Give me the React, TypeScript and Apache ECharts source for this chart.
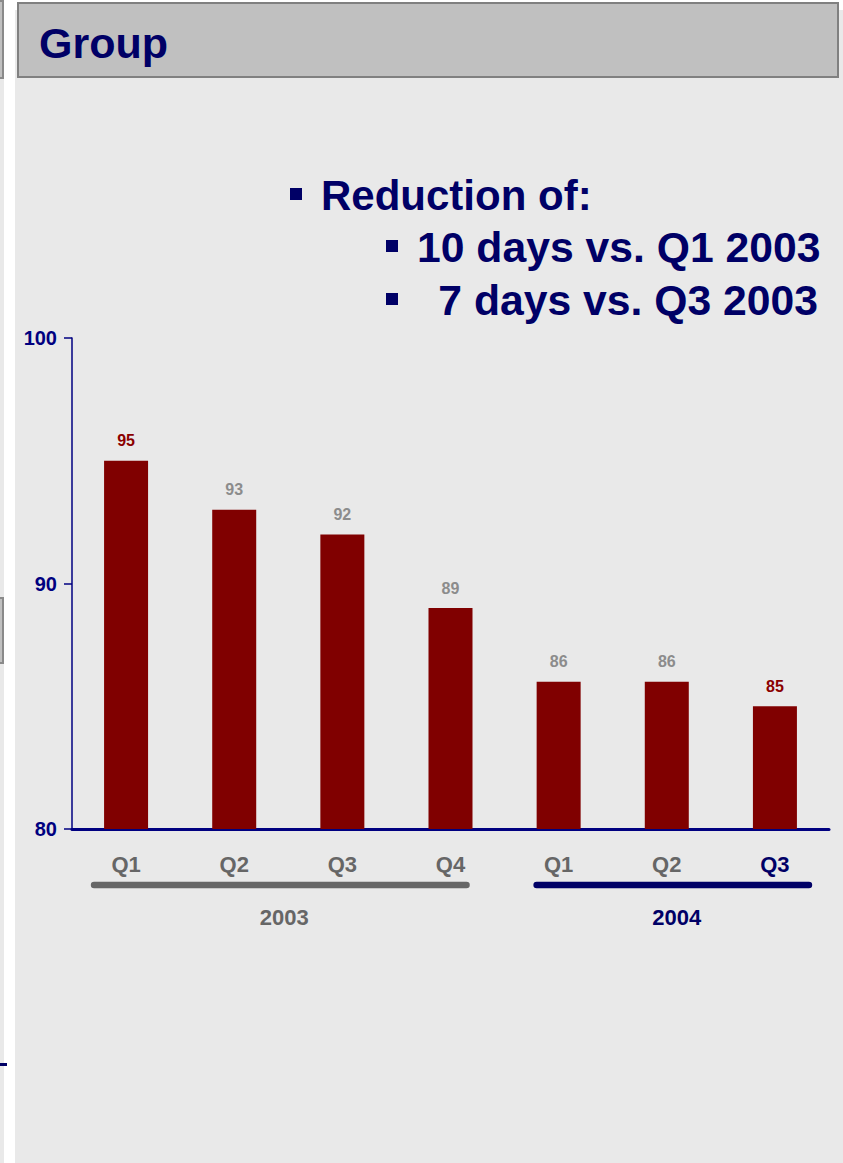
import React, { useEffect, useRef } from "react";
import * as echarts from "echarts";

// Quarterly values
const quarters = ["Q1", "Q2", "Q3", "Q4", "Q1", "Q2", "Q3"];
const dayValues = [95, 93, 92, 89, 86, 86, 85];
// Quarters whose value label is shown in red (start and current quarter)
const emphasisIndexes = [0, 6];
// Latest quarter, shown in navy on the category axis
const currentIndex = 6;

// Value axis
const yMin = 80;
const yMax = 100;
const yInterval = 10;

// Year groupings below the quarter labels
const yearGroups = [
  { label: "2003", from: 0, to: 3 },
  { label: "2004", from: 4, to: 6 },
];

// Headline text
const headerTitle = "Group";
const bulletLines = ["Reduction of:", "10 days vs. Q1 2003", " 7 days vs. Q3 2003"];

const FONT = '"Liberation Sans", Arial, Helvetica, sans-serif';
const NAVY = "#000066";
const AXIS_NAVY = "#000080";
const GREY_TEXT = "#666666";
const VALUE_GREY = "#8c8c8c";
const BAR_RED = "#800000";
const LABEL_RED = "#8b0000";
const PANEL = "#e9e9e9";

// Per-group bracket overhang (left of first centre, right of last centre)
const groupStyle = [
  { color: "#666666", padLeft: 32, padRight: 16, textColor: GREY_TEXT },
  { color: NAVY, padLeft: 22, padRight: 34, textColor: NAVY },
];

const W = 843;
const H = 1163;

function staticGraphics(): any[] {
  const els: any[] = [
    // left strip belonging to the neighbouring page
    { type: "rect", shape: { x: 0, y: 0, width: 4, height: H }, style: { fill: PANEL } },
    {
      type: "rect",
      shape: { x: -12, y: 1, width: 15, height: 77 },
      style: { fill: "#c0c0c0", stroke: "#8a8a8a", lineWidth: 2 },
    },
    {
      type: "rect",
      shape: { x: -12, y: 598, width: 15, height: 65 },
      style: { fill: "#c0c0c0", stroke: "#8a8a8a", lineWidth: 2 },
    },
    { type: "rect", shape: { x: 0, y: 1063, width: 7, height: 3 }, style: { fill: NAVY } },
    // main panel
    { type: "rect", shape: { x: 15, y: 10, width: W - 15, height: H - 10 }, style: { fill: PANEL } },
    // header bar
    {
      type: "rect",
      shape: { x: 18, y: 3, width: 820, height: 74 },
      style: { fill: "#c0c0c0", stroke: "#808080", lineWidth: 2 },
    },
    {
      type: "text",
      x: 39,
      y: 43,
      style: {
        text: headerTitle,
        font: `bold 43px ${FONT}`,
        fill: NAVY,
        textAlign: "left",
        textVerticalAlign: "middle",
      },
    },
  ];

  const bulletPos = [
    { bx: 290, tx: 321, y: 195 },
    { bx: 386, tx: 417, y: 247 },
    { bx: 386, tx: 417, y: 300 },
  ];
  bulletLines.forEach((line, i) => {
    const p = bulletPos[i];
    els.push({
      type: "rect",
      shape: { x: p.bx, y: p.y - 7, width: 12, height: 12 },
      style: { fill: NAVY },
    });
    els.push({
      type: "text",
      x: p.tx,
      y: p.y,
      style: {
        text: line.replace(/^ /, "\u2002"),
        font: `bold ${i === 0 ? 42 : 42.7}px ${FONT}`,
        fill: NAVY,
        textAlign: "left",
        textVerticalAlign: "middle",
      },
    });
  });
  return els;
}

export default function App() {
  const ref = useRef<HTMLDivElement>(null);

  useEffect(() => {
    if (!ref.current) return;
    const chart = echarts.init(ref.current, null, { renderer: "svg", width: W, height: H });

    const barData = dayValues.map((v, i) => {
      const red = emphasisIndexes.includes(i);
      return {
        value: v,
        label: { color: red ? LABEL_RED : VALUE_GREY },
      };
    });

    chart.setOption({
      animation: false,
      backgroundColor: "#ffffff",
      textStyle: { fontFamily: FONT },
      grid: { left: 72, right: W - 829, top: 338, bottom: H - 829, containLabel: false },
      xAxis: {
        type: "category",
        data: quarters,
        boundaryGap: true,
        axisLine: { show: true, lineStyle: { color: AXIS_NAVY, width: 3 } },
        axisTick: { show: false },
        splitLine: { show: false },
        axisLabel: {
          margin: 24,
          interval: 0,
          formatter: (v: string, i: number) => (i === currentIndex ? `{cur|${v}}` : `{past|${v}}`),
          rich: {
            past: { color: GREY_TEXT, fontSize: 22, fontWeight: "bold", fontFamily: FONT },
            cur: { color: NAVY, fontSize: 22, fontWeight: "bold", fontFamily: FONT },
          },
        },
      },
      yAxis: {
        type: "value",
        min: yMin,
        max: yMax,
        interval: yInterval,
        axisLine: { show: true, lineStyle: { color: AXIS_NAVY, width: 1.5 } },
        axisTick: { show: true, length: 8, lineStyle: { color: AXIS_NAVY, width: 1.5 } },
        splitLine: { show: false },
        axisLabel: {
          margin: 15,
          color: AXIS_NAVY,
          fontSize: 20,
          fontWeight: "bold",
          fontFamily: FONT,
        },
      },
      series: [
        {
          type: "bar",
          data: barData,
          barWidth: 44,
          itemStyle: { color: BAR_RED },
          label: {
            show: true,
            position: "top",
            distance: 12,
            fontSize: 16,
            fontWeight: "bold",
            fontFamily: FONT,
          },
        },
      ],
      graphic: { elements: staticGraphics() },
    });

    // Year brackets placed from the category axis scale
    const axisY = chart.convertToPixel({ yAxisIndex: 0 }, yMin) as number;
    const yearEls: any[] = [];
    yearGroups.forEach((g, gi) => {
      const st = groupStyle[gi];
      const x1 = (chart.convertToPixel({ xAxisIndex: 0 }, g.from) as number) - st.padLeft;
      const x2 = (chart.convertToPixel({ xAxisIndex: 0 }, g.to) as number) + st.padRight;
      yearEls.push({
        type: "line",
        shape: { x1, y1: axisY + 56, x2, y2: axisY + 56 },
        style: { stroke: st.color, lineWidth: 6.5, lineCap: "round" },
      });
      yearEls.push({
        type: "text",
        x: (x1 + x2) / 2 + 4,
        y: axisY + 88,
        style: {
          text: g.label,
          font: `bold 22px ${FONT}`,
          fill: st.textColor,
          textAlign: "center",
          textVerticalAlign: "middle",
        },
      });
    });
    chart.setOption({ graphic: { elements: [...staticGraphics(), ...yearEls] } });

    return () => chart.dispose();
  }, []);

  return (
    <div
      ref={ref}
      style={{ position: "absolute", left: 0, top: 0, width: W, height: H }}
    />
  );
}
